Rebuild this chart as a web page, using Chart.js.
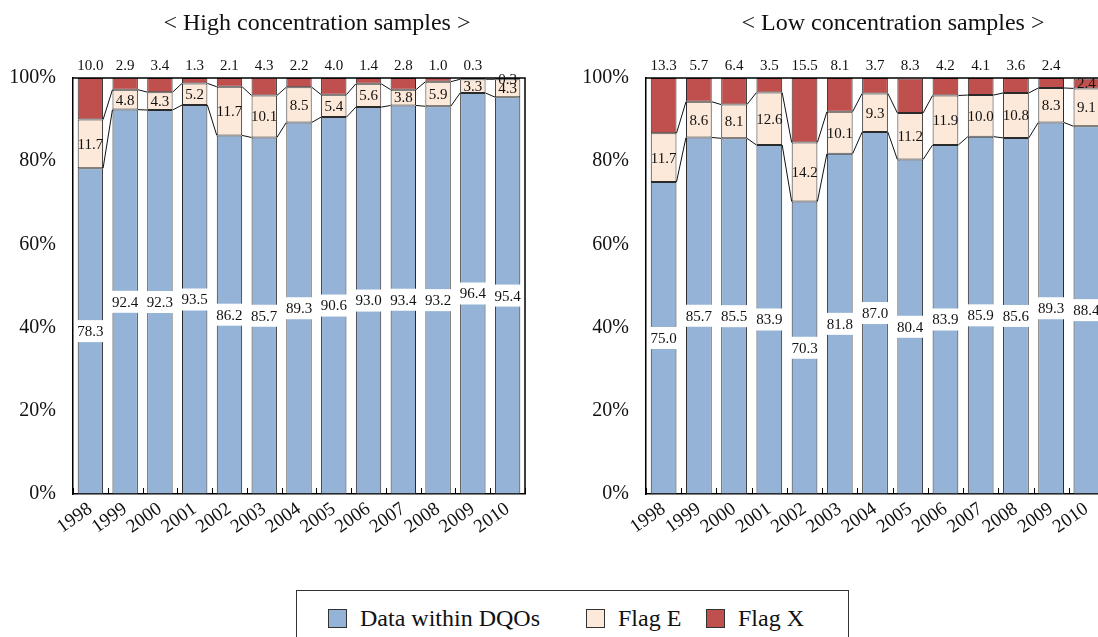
<!DOCTYPE html>
<html>
<head>
<meta charset="utf-8">
<script src="https://cdn.jsdelivr.net/npm/chart.js@4"></script>
<style>
  html, body { margin: 0; padding: 0; background: #fff; }
  body { width: 1098px; height: 637px; overflow: hidden; position: relative; font-family: "Liberation Serif", "DejaVu Serif", serif; }
  #cLeft { position: absolute; left: 0; top: 0; }
  #cRight { position: absolute; left: 573px; top: 0; }
  #legend { position: absolute; left: 296px; top: 590px; width: 553px; height: 60px; border: 1px solid #333; box-sizing: border-box; }
  .li { position: absolute; top: 14px; display: flex; align-items: center; font-size: 24px; color: #111; }
  .sw { width: 17px; height: 17px; border: 1.5px solid #333; margin-right: 13px; }
</style>
</head>
<body>
<canvas id="cLeft" width="545" height="560"></canvas>
<canvas id="cRight" width="560" height="560"></canvas>
<div id="legend"></div>
<script>
const years = ['1998','1999','2000','2001','2002','2003','2004','2005','2006','2007','2008','2009','2010'];
const seriesNames = ['Data within DQOs', 'Flag E', 'Flag X'];
const seriesColors = ['#95B3D7', '#FDE9D9', '#C0504D'];
const yTicks = [0, 20, 40, 60, 80, 100];

const highTitle = '< High concentration samples >';
const highDQO = [78.3, 92.4, 92.3, 93.5, 86.2, 85.7, 89.3, 90.6, 93.0, 93.4, 93.2, 96.4, 95.4];
const highE   = [11.7, 4.8, 4.3, 5.2, 11.7, 10.1, 8.5, 5.4, 5.6, 3.8, 5.9, 3.3, 4.3];
const highX   = [10.0, 2.9, 3.4, 1.3, 2.1, 4.3, 2.2, 4.0, 1.4, 2.8, 1.0, 0.3, 0.3];

const lowTitle = '< Low concentration samples >';
const lowDQO = [75.0, 85.7, 85.5, 83.9, 70.3, 81.8, 87.0, 80.4, 83.9, 85.9, 85.6, 89.3, 88.4];
const lowE   = [11.7, 8.6, 8.1, 12.6, 14.2, 10.1, 9.3, 11.2, 11.9, 10.0, 10.8, 8.3, 9.1];
const lowX   = [13.3, 5.7, 6.4, 3.5, 15.5, 8.1, 3.7, 8.3, 4.2, 4.1, 3.6, 2.4, 2.4];

const FONT = '"Liberation Serif", "DejaVu Serif", serif';

const decoPlugin = {
  id: 'deco',
  afterDatasetsDraw(chart) {
    const ctx = chart.ctx;
    const area = chart.chartArea;
    const metas = [0,1,2].map(i => chart.getDatasetMeta(i).data);
    ctx.save();
    // series lines
    ctx.strokeStyle = '#111';
    ctx.lineWidth = 1;
    for (let d = 0; d < 2; d++) {
      const els = metas[d];
      for (let i = 0; i < els.length - 1; i++) {
        const a = els[i], b = els[i+1];
        ctx.beginPath();
        ctx.moveTo(a.x + a.width/2, a.y);
        ctx.lineTo(b.x - b.width/2, b.y);
        ctx.stroke();
      }
    }
    // frame top & right
    ctx.strokeStyle = '#000';
    ctx.lineWidth = 1.5;
    ctx.beginPath();
    ctx.moveTo(area.left, area.top);
    ctx.lineTo(area.right, area.top);
    ctx.lineTo(area.right, area.bottom);
    ctx.stroke();
    // inner category ticks at bottom
    const xs = chart.scales.x;
    const step = xs.getPixelForValue(1) - xs.getPixelForValue(0);
    ctx.lineWidth = 1;
    for (let i = 0; i <= years.length; i++) {
      const px = Math.round(xs.getPixelForValue(0) - step/2 + i*step) + 0.5;
      ctx.beginPath();
      ctx.moveTo(px, area.bottom);
      ctx.lineTo(px, area.bottom - 6);
      ctx.stroke();
    }
    // labels
    ctx.font = '15px ' + FONT;
    ctx.textAlign = 'center';
    ctx.textBaseline = 'middle';
    const dsVals = chart.data.datasets.map(d => d.data);
    metas[0].forEach((el, i) => {
      const txt = dsVals[0][i].toFixed(1);
      const cy = (el.y + el.base) / 2;
      const w = ctx.measureText(txt).width + 6;
      ctx.fillStyle = '#fff';
      ctx.fillRect(el.x - w/2, cy - 11, w, 22);
      ctx.fillStyle = '#111';
      ctx.fillText(txt, el.x, cy + 1);
    });
    metas[1].forEach((el, i) => {
      const txt = dsVals[1][i].toFixed(1);
      ctx.fillStyle = '#111';
      ctx.fillText(txt, el.x, (el.y + el.base) / 2 + 1);
    });
    metas[2].forEach((el, i) => {
      const txt = dsVals[2][i].toFixed(1);
      ctx.fillStyle = '#111';
      const last = i === metas[2].length - 1;
      ctx.fillText(txt, el.x, last ? (el.y + el.base) / 2 + 1 : area.top - 12);
    });
    // title
    ctx.font = '24px ' + FONT;
    ctx.fillStyle = '#111';
    ctx.fillText(chart.options.plugins.myTitle.text, (area.left + area.right) / 2 + 18, 24);
    ctx.restore();
  }
};

function makeChart(id, title, dqo, e, x, padRight) {
  const vals = [dqo, e, x];
  return new Chart(document.getElementById(id), {
    type: 'bar',
    data: {
      labels: years,
      datasets: seriesNames.map((n, k) => ({
        label: n,
        data: vals[k],
        backgroundColor: seriesColors[k],
        borderColor: '#2a2a2a',
        borderWidth: 1,
        borderSkipped: false,
        categoryPercentage: 1,
        barPercentage: 0.73
      }))
    },
    options: {
      responsive: false,
      devicePixelRatio: 1,
      animation: false,
      layout: { padding: { top: 78, right: padRight, left: 0, bottom: 0 } },
      plugins: { legend: { display: false }, tooltip: { enabled: false }, myTitle: { text: title } },
      scales: {
        x: {
          stacked: true,
          grid: { display: false, drawTicks: false },
          border: { display: true, color: '#000', width: 1.5 },
          ticks: { font: { family: FONT, size: 19 }, color: '#111', minRotation: 35, maxRotation: 35, autoSkip: false, padding: 4 },
          afterFit(s) { s.height = 66; }
        },
        y: {
          stacked: true,
          min: 0, max: 100,
          afterBuildTicks(s) { s.ticks = yTicks.map(v => ({ value: v })); },
          grid: { display: false, drawTicks: false },
          border: { display: true, color: '#000', width: 1.5 },
          ticks: { font: { family: FONT, size: 20 }, color: '#111', padding: 17, callback: v => v + '%' },
          afterFit(s) { s.width = 73; }
        }
      }
    },
    plugins: [decoPlugin]
  });
}

makeChart('cLeft', highTitle, highDQO, highE, highX, 20);
makeChart('cRight', lowTitle, lowDQO, lowE, lowX, 29);

// legend
const lg = document.getElementById('legend');
const lgPos = [31, 289, 409];
seriesNames.forEach((n, k) => {
  const d = document.createElement('div');
  d.className = 'li';
  d.style.left = lgPos[k] + 'px';
  const s = document.createElement('div');
  s.className = 'sw';
  s.style.background = seriesColors[k];
  d.appendChild(s);
  d.appendChild(document.createTextNode(n));
  lg.appendChild(d);
});
</script>
</body>
</html>
